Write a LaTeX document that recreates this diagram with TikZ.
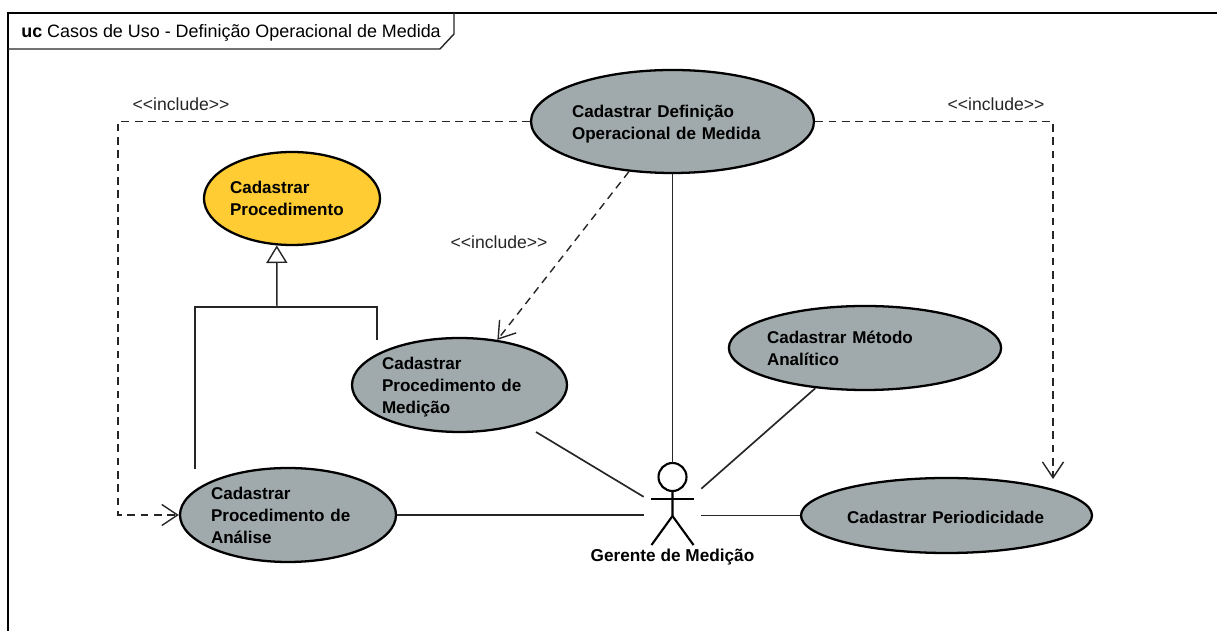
\documentclass[tikz,border=0pt]{standalone}
\usepackage{fontspec}
\setmainfont{Liberation Sans}
\usetikzlibrary{arrows.meta, shapes.geometric}
\definecolor{casegray}{RGB}{160,169,171}
\definecolor{caseyellow}{RGB}{255,204,51}
\newcommand{\toprule}{\rule{0pt}{9.6pt}}
\tikzset{
  usecase/.style={ellipse, draw=black, line width=1.3pt, fill=casegray, inner sep=-1pt, align=left,
    font=\fontsize{9.7}{12.5}\selectfont\bfseries},
  stereo/.style={font=\fontsize{10}{12}\selectfont, text=black!85},
  assoc/.style={line width=.95pt, black!85},
  incl/.style={line width=.8pt, black!85, dash pattern=on 4.4pt off 3.2pt, -{Straight Barb[length=9pt,width=12pt,line width=.8pt]}},
  gener/.style={line width=.85pt, black!85},
}

\begin{document}
\begin{tikzpicture}[>=latex]
  \useasboundingbox (0,0) rectangle (24.34,12.62);
  \draw [line width=.8pt] (24.34,12.36) -- (0.16,12.36) -- (0.16,0);
  \draw [line width=.8pt, black!85] (9.08,12.36) -- (9.08,11.94) -- (8.8,11.64) -- (0.16,11.64);
  \node (frametitle) at (0.42,11.97) [anchor=west, inner sep=0, font=\fontsize{10.2}{12}\selectfont] {\textbf{uc} Casos de Uso - Definição Operacional de Medida};

  \node (definicao) at (13.45,10.19) [usecase, minimum width=5.66cm, minimum height=2.06cm, text width=4.02cm] {\toprule Cadastrar Definição\\Operacional de Medida};
  \node (procedimento) at (5.84,8.65) [usecase, fill=caseyellow, minimum width=3.52cm, minimum height=1.86cm, text width=2.48cm] {Cadastrar\\Procedimento};
  \node (medicao) at (9.19,4.92) [usecase, minimum width=4.3cm, minimum height=1.88cm, text width=3.1cm] {\toprule Cadastrar\\Procedimento de\\Medição};
  \node (analise) at (5.76,2.32) [usecase, minimum width=4.32cm, minimum height=1.88cm, text width=3.08cm] {Cadastrar\\Procedimento de\\Análise};
  \node (metodo) at (17.3,5.66) [usecase, minimum width=5.44cm, minimum height=1.68cm, text width=3.92cm] {Cadastrar Método\\Analítico};
  \node (periodicidade) at (18.93,2.31) [usecase, minimum width=5.82cm, minimum height=1.5cm, text width=3.98cm] {\toprule Cadastrar Periodicidade};

  \node (gerente) at (13.45,2.54) [minimum width=1.14cm, minimum height=1.64cm, inner sep=0] {};
  \draw [line width=1.2pt] (13.45,3.08) circle [radius =.28];
  \draw [line width=1.2pt] (13.45,2.8) -- (13.45,2.3) -- (13.03,1.72);
  \draw [line width=1.2pt] (13.45,2.3) -- (13.87,1.72);
  \draw [line width=1.2pt] (13.02,2.64) -- (13.88,2.64);
  \node (gerentelabel) at (13.45,1.47) [font=\fontsize{9.8}{11}\selectfont\bfseries] {Gerente de Medição};

  \coordinate (medfim) at (10.72,3.98);
  \coordinate (perifim) at (21.06,3.04);
  \coordinate (esqcanto) at (2.36,10.19);
  \coordinate (esqbaixo) at (2.36,2.32);
  \coordinate (dircanto) at (21.06,10.19);
  \coordinate (junta) at (5.54,6.48);
  \coordinate (juntaesq) at (3.9,6.48);
  \coordinate (juntadir) at (7.54,6.48);
  \coordinate (fimesq) at (3.9,3.24);
  \coordinate (fimdir) at (7.54,5.82);

  \draw [assoc] (definicao.south) -- (gerente.north);
  \draw [assoc] (medfim) -- (gerente.166);
  \draw [assoc] (metodo.-141) -- (gerente.28);
  \draw [assoc] (analise.east) -- (analise.east -| gerente.west);
  \draw [assoc] (periodicidade.west) -- (periodicidade.west -| gerente.east);

  \draw [incl] (definicao.west) -- (esqcanto) -- (esqbaixo) -- (analise.west);
  \draw [incl] (definicao.east) -- (dircanto) -- (perifim);
  \draw [incl] (definicao.-131) -- (medicao.50);

  \draw [gener] (fimesq) -- (juntaesq) -- (juntadir) -- (fimdir);
  \draw [gener, -{Triangle[open, fill=white, length=10pt, width=12pt, line width=.8pt]}] (junta) -- (procedimento.-108);

  \node (inclesq) at (3.62,10.54) [stereo] {<{}<include>{}>};
  \node (incldir) at (19.92,10.54) [stereo] {<{}<include>{}>};
  \node (inclmed) at (9.98,7.78) [stereo] {<{}<include>{}>};
\end{tikzpicture}
\end{document}
